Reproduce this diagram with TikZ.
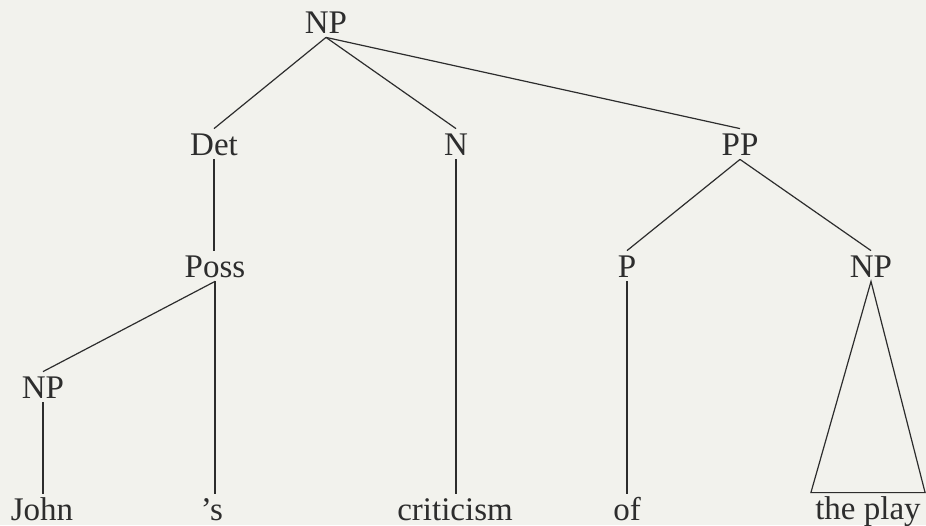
\documentclass[tikz,border=0pt]{standalone}
\usepackage{fontspec}
\setmainfont{Liberation Serif}
\definecolor{PaperGray}{RGB}{242,242,237}
\definecolor{InkGray}{RGB}{45,45,45}
\usetikzlibrary{positioning}

\begin{document}
\begin{tikzpicture}[x=0.5pt,y=-0.5pt,
    cat/.style={inner sep=2pt, anchor=base, text height=11pt, text depth=0pt,
      font=\fontsize{16.5}{20}\selectfont, text=InkGray},
    branch/.style={draw=InkGray, line width=0.6pt}]
      \useasboundingbox (0,0) rectangle (926,525);
      \fill[PaperGray] (0,0) rectangle (926,525);
      % categories
      \node[cat] (np) at (326,33) {NP};
      \node[cat] (det) at (214,155) {Det};
      \node[cat] (n) at (456,155) {N};
      \node[cat] (pp) at (740,155) {PP};
      \node[cat] (poss) at (215,277) {Poss};
      \node[cat] (p) at (627,277) {P};
      \node[cat] (npobj) at (871,277) {NP};
      \node[cat] (npposs) at (43,398) {NP};
      % words
      \node[cat] (john) at (42,520) {John};
      \node[cat] (s) at (212,520) {'s};
      \node[cat] (crit) at (455,520) {criticism};
      \node[cat] (of) at (627,520) {of};
      \node[cat] (play) at (868,519) {the play};
      % branches
      \draw[branch] (np.south) -- (det.north);
      \draw[branch] (np.south) -- (n.north);
      \draw[branch] (np.south) -- (pp.north);
      \draw[branch] (det.south) -- (det.south |- poss.north);
      \draw[branch] (n.south) -- (n.south |- crit.north);
      \draw[branch] (pp.south) -- (p.north);
      \draw[branch] (pp.south) -- (npobj.north);
      \draw[branch] (poss.south) -- (npposs.north);
      \draw[branch] (poss.south) -- (poss.south |- s.north);
      \draw[branch] (npposs.south) -- (npposs.south |- john.north);
      \draw[branch] (p.south) -- (p.south |- of.north);
      \draw[branch] (npobj.south) -- (play.north west) -- (play.north east) -- cycle;
    \end{tikzpicture}
\end{document}
